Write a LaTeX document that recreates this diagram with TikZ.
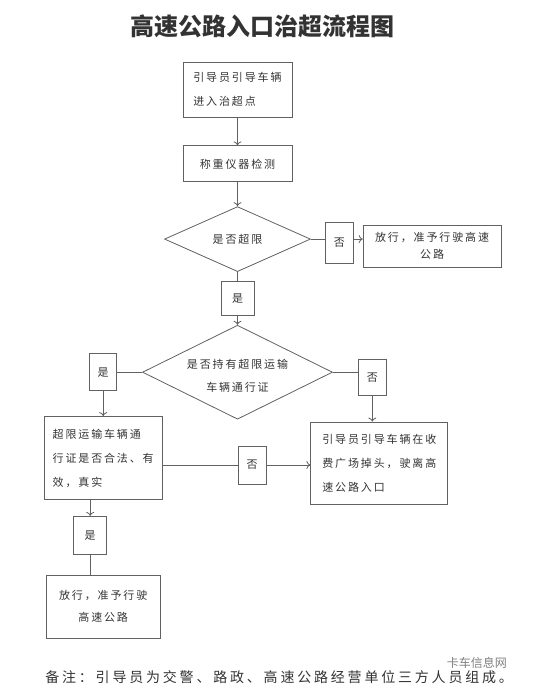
\documentclass[tikz,border=0pt]{standalone}
\usepackage{fontspec}
\setmainfont{Noto Sans CJK SC}
\newfontfamily\cajafont[LetterSpace=17]{Noto Sans CJK SC}
\newfontfamily\notafont[LetterSpace=20]{Noto Sans CJK SC}
\usepackage{tikz}
\usetikzlibrary{shapes,arrows,arrows.meta,positioning}
\definecolor{linea}{gray}{0.38}
\definecolor{tinta}{gray}{0.2}
\tikzset{
    caja/.style={
        rectangle,                % caja de paso
        draw=linea,               % borde gris
        line width=0.8pt,         % trazo fino
        text=tinta,               % texto gris oscuro
        font=\cajafont\fontsize{11}{24}\selectfont,
        align=left,               % texto alineado a la izquierda
        inner sep=0pt
    },
    cajita/.style={
        rectangle,                % caja pequeña de "是" / "否"
        draw=linea,
        line width=0.8pt,
        text=tinta,
        font=\cajafont\fontsize{11}{11}\selectfont,
        minimum width=28pt,
        minimum height=37pt,
        inner sep=0pt
    },
    decision/.style={
        diamond,                  % rombo de pregunta
        draw=linea,
        line width=0.8pt,
        inner sep=0pt             % el texto va en un nodo aparte
    },
    rotulo/.style={
        text=tinta,
        font=\cajafont\fontsize{11}{23}\selectfont,
        align=center,
        inner sep=0pt
    },
    flecha/.style={->, draw=linea, line width=0.8pt},
    conector/.style={draw=linea, line width=0.8pt}
}

\begin{document}
\begin{tikzpicture}[>={To[length=4pt,width=8pt]}]
			\useasboundingbox (-237.5pt,89.5pt) rectangle (312.5pt,-602.5pt);

			\node[caja, minimum width=109pt, minimum height=55pt] (guia) {
				引导员引导车辆\\
				进入治超点
			};
			\node[font=\bfseries\fontsize{24}{24}\selectfont, text=tinta, above=20pt of guia, xshift=25pt] (titulo) {高速公路入口治超流程图};
			\node[caja, minimum width=109pt, minimum height=36pt, below=28pt of guia] (pesaje) {称重仪器检测};
			\node[decision, minimum width=146pt, minimum height=65pt, below=24pt of pesaje] (exceso) {};
			\node[rotulo] (excesot) at (exceso) {是否超限};
			\node[cajita, minimum height=41pt, right=14pt of exceso, yshift=-4pt] (no1) {否};
			\node[caja, align=center, minimum width=138pt, minimum height=42pt, font=\cajafont\fontsize{11}{17}\selectfont, right=9pt of no1, yshift=-3pt] (libre1) {
				放行，准予行驶高速\\
				公路
			};
			\node[cajita, minimum width=33pt, minimum height=34pt, below=9pt of exceso] (si1) {是};
			\node[decision, minimum width=190pt, minimum height=94pt, below=9pt of si1] (permiso) {};
			\node[rotulo, yshift=-4pt] (permisot) at (permiso) {
				是否持有超限运输\\
				车辆通行证
			};
			\node[cajita, minimum width=27pt, left=25pt of permiso] (si2) {是};
			\node[cajita, minimum height=36pt, right=25pt of permiso, yshift=-5pt] (no2) {否};
			\node[caja, minimum width=118pt, minimum height=83pt, below=25pt of si2] (valido) {
				超限运输车辆通\\
				行证是否合法、有\\
				效，真实
			};
			\node[caja, minimum width=137pt, minimum height=82pt, below=26pt of no2, xshift=7pt] (retorno) {
				引导员引导车辆在收\\
				费广场掉头，驶离高\\
				速公路入口
			};
			\node[cajita, minimum height=38pt, right=75pt of valido, yshift=-7pt] (no3) {否};
			\node[cajita, minimum width=33pt, minimum height=38pt, below=16pt of valido, xshift=-13pt] (si3) {是};
			\node[caja, align=center, minimum width=114pt, minimum height=63pt, font=\cajafont\fontsize{11}{22}\selectfont, below=20pt of si3, xshift=13pt] (libre2) {
				放行，准予行驶\\
				高速公路
			};
			\node[font=\notafont\fontsize{14}{14}\selectfont, text=tinta, below=39pt of libre2.south west, anchor=west, xshift=-4pt] (nota) {备注：引导员为交警、路政、高速公路经营单位三方人员组成。};
			\node[font=\fontsize{12}{12}\selectfont, text=black!50, anchor=east] (marca) at ([xshift=-6pt,yshift=15pt]nota.east) {卡车信息网};

			\draw[flecha] (guia) -- (pesaje);
			\draw[flecha] (pesaje) -- (exceso);
			\draw[conector] (exceso.east) -- (exceso.east -| no1.west);
			\draw[flecha] (no1.east |- exceso.east) -- (libre1.west |- exceso.east);
			\draw[conector] (exceso) -- (si1);
			\draw[flecha] (si1) -- (permiso);
			\draw[conector] (permiso.west) -- (permiso.west -| si2.east);
			\draw[flecha] (si2) -- (valido);
			\draw[conector] (permiso.east) -- (permiso.east -| no2.west);
			\draw[flecha] (no2.south) -- (no2.south |- retorno.north);
			\draw[conector] (valido.east |- no3.west) -- (no3.west);
			\draw[flecha] (no3.east) -- (no3.east -| retorno.west);
			\draw[flecha] (si3.north |- valido.south) -- (si3.north);
			\draw[conector] (si3) -- (si3.south |- libre2.north);
		\end{tikzpicture}
\end{document}
